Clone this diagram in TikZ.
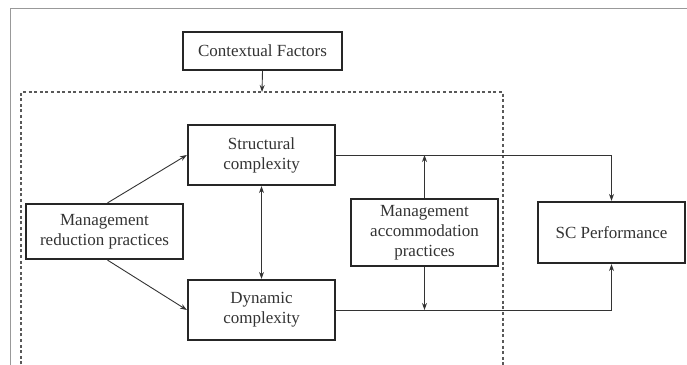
\documentclass[tikz,border=0pt]{standalone}
\usepackage{fontspec}
\setmainfont{LiberationSerif}[Extension=.ttf, UprightFont=*-Regular, BoldFont=*-Bold]
\usetikzlibrary{arrows.meta}
\begin{document}
\begin{tikzpicture}[x=1pt,y=-1pt,
  box/.style={draw=black!85, line width=2.2pt, align=center, inner sep=2pt,
    font=\fontsize{17}{20}\selectfont, text=black!80},
  link/.style={draw=black!80, line width=0.9pt},
  tip/.style={-{Stealth[length=7pt,width=5pt]}},
  framing/.style={draw=black!40, line width=1pt},
  scopeline/.style={draw=black!65, line width=1.2pt, dash pattern=on 3pt off 2.6pt}]
\useasboundingbox (0,0) rectangle (687,364);

% page frame and dashed scope
\draw[framing] (10,370) -- (10,8) -- (690,8);
\draw[scopeline] (21,370) -- (21,92) -- (503,92) -- (503,370);
\coordinate (scopetop) at (262,92);

% boxes
\node[box, minimum width=159pt, minimum height=38pt] (ctx) at (262.5,51) {Contextual Factors};
\node[box, minimum width=147pt, minimum height=60pt] (sc) at (261.5,155) {Structural\\complexity};
\node[box, minimum width=147pt, minimum height=60pt] (dc) at (261.5,310) {Dynamic\\complexity};
\node[box, minimum width=157pt, minimum height=55pt] (red) at (104.5,231.5) {Management\\reduction practices};
\node[box, minimum width=147pt, minimum height=67pt] (acc) at (424.5,232.5) {Management\\accommodation\\practices};
\node[box, minimum width=147pt, minimum height=61pt] (perf) at (611.5,232.5) {SC Performance};

% connectors
\draw[link, tip] (ctx.south) -- (scopetop);
\draw[link, tip] ([xshift=3pt]red.north) -- (sc.west);
\draw[link, tip] ([xshift=3pt]red.south) -- (dc.west);
\draw[link, {Stealth[length=7pt,width=5pt]}-{Stealth[length=7pt,width=5pt]}] (sc.south) -- (dc.north);
\draw[link, tip] (sc.east) -| (perf.north);
\draw[link, tip] (dc.east) -| (perf.south);
\draw[link, tip] (acc.north) -- (acc.north |- sc.east);
\draw[link, tip] (acc.south) -- (acc.south |- dc.east);
\end{tikzpicture}
\end{document}
